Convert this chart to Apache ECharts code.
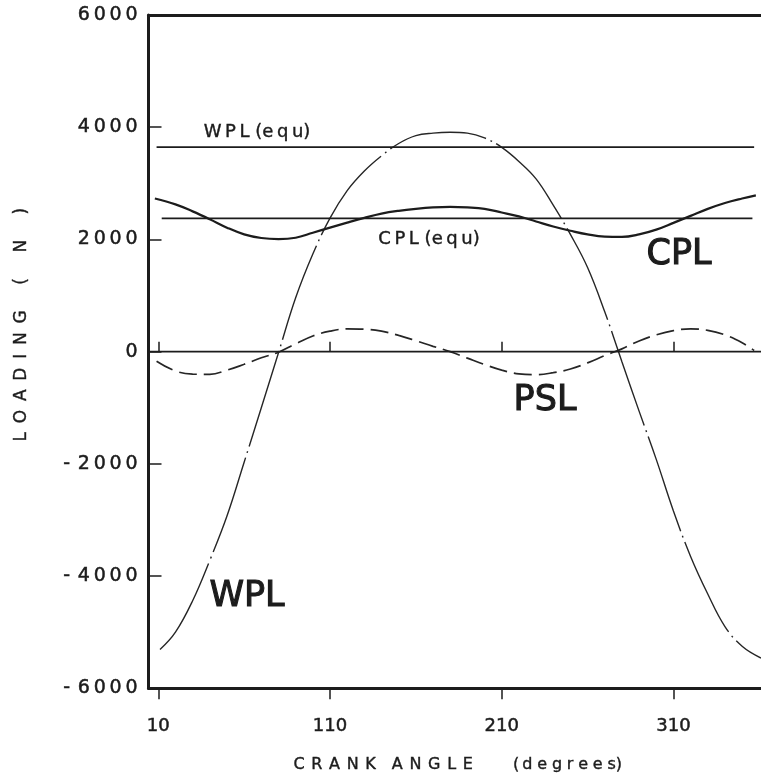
<!DOCTYPE html>
<html>
<head>
<meta charset="utf-8">
<script src="https://cdn.jsdelivr.net/npm/echarts@6/dist/echarts.min.js"></script>
<style>
  html, body { margin: 0; padding: 0; background: #ffffff; }
  #chart { width: 761px; height: 784px; }
</style>
</head>
<body>
<div id="chart"></div>
<script>
// Crank angle (degrees) and loading (N) for each curve
const wplAngle = [11, 20, 30, 40, 50, 60, 70, 80, 90, 100, 110, 120, 130, 140, 150, 160, 170, 180, 190, 200, 210, 220, 230, 240, 250, 260, 270, 280, 290, 300, 310, 320, 330, 340, 350, 361];
const wplLoad  = [-5310, -5000, -4440, -3720, -2930, -1970, -1000, -20, 960, 1740, 2380, 2870, 3220, 3490, 3710, 3850, 3895, 3910, 3895, 3810, 3640, 3390, 3080, 2610, 2090, 1500, 710, -180, -1060, -1920, -2840, -3650, -4320, -4900, -5250, -5460];

const cplAngle = [8, 20, 30, 40, 50, 60, 70, 80, 90, 100, 110, 120, 130, 140, 150, 160, 170, 180, 190, 200, 210, 220, 230, 240, 250, 260, 270, 280, 290, 300, 310, 320, 330, 340, 350, 358];
const cplLoad  = [2730, 2625, 2500, 2360, 2210, 2090, 2025, 2005, 2030, 2120, 2210, 2300, 2385, 2460, 2510, 2545, 2570, 2580, 2570, 2545, 2480, 2410, 2320, 2230, 2155, 2090, 2050, 2045, 2090, 2175, 2295, 2420, 2545, 2650, 2730, 2785];

const pslAngle = [9, 20, 30, 40, 50, 60, 70, 80, 90, 100, 110, 120, 130, 140, 150, 160, 170, 180, 190, 200, 210, 220, 230, 240, 250, 260, 270, 280, 290, 300, 310, 320, 330, 340, 350, 357];
const pslLoad  = [-170, -345, -400, -405, -330, -225, -110, -10, 140, 280, 365, 405, 400, 365, 290, 195, 95, 0, -115, -230, -330, -395, -410, -375, -310, -200, -70, 50, 190, 300, 375, 405, 380, 300, 160, 20];

// Equivalent loading levels and the angle span they are drawn over
const wplEquLevel = 3645;
const wplEquSpan = [9, 357];
const cplEquLevel = 2375;
const cplEquSpan = [12, 356];

// Axis extents and tick values
const angleMin = 4.3;
const angleMax = 361;
const angleTicks = [10, 110, 210, 310];
const loadMin = -6000;
const loadMax = 6000;
const loadStep = 2000;

const INK = '#1c1c1c';
const FONT = 'DejaVu Sans';
const THIN = '\u2009';
const HAIR = '\u200A';

function spaced(str, sep) {
  return str.split('').join(sep);
}
function zip(xs, ys) {
  return xs.map((x, i) => [x, ys[i]]);
}
function levelLine(span, level) {
  return span.map(a => [a, level]);
}

const chart = echarts.init(document.getElementById('chart'), null, { renderer: 'canvas' });

const baseX = {
  type: 'value',
  min: angleMin,
  max: angleMax,
  splitLine: { show: false }
};

const xName = spaced('CRANK', ' ' + HAIR) + '\u2002\u2002' + spaced('ANGLE', ' ' + HAIR) +
  '\u2003\u2003\u2002(' + THIN + spaced('degrees', THIN + HAIR) + ')';
const yName = spaced('LOADING', ' ' + THIN) + '\u2003\u2002(\u2003\u2002N\u2003\u2002)';

const option = {
  animation: false,
  backgroundColor: '#ffffff',
  grid: { left: 148.5, right: -1, top: 15, bottom: 95.7, containLabel: false },
  xAxis: [
    Object.assign({}, baseX, {
      position: 'bottom',
      axisLine: { show: true, onZero: false, lineStyle: { color: INK, width: 3 } },
      axisTick: { show: true, inside: false, length: 11, customValues: angleTicks, lineStyle: { color: INK, width: 1.5 } },
      axisLabel: {
        show: true, customValues: angleTicks, margin: 29, fontSize: 18, fontFamily: FONT, color: INK,
        textBorderColor: INK, textBorderWidth: 0.5
      },
      name: xName,
      nameLocation: 'middle',
      nameGap: 69,
      nameTextStyle: { fontSize: 16, fontFamily: FONT, color: INK, textBorderColor: INK, textBorderWidth: 0.4, padding: [0, 0, 0, 6] }
    }),
    Object.assign({}, baseX, {
      position: 'bottom',
      axisLine: { show: false },
      axisTick: { show: true, inside: true, length: 10, customValues: angleTicks, lineStyle: { color: INK, width: 1.5 } },
      axisLabel: { show: false }
    }),
    Object.assign({}, baseX, {
      position: 'top',
      axisLine: { show: true, onZero: false, lineStyle: { color: INK, width: 3 } },
      axisTick: { show: false },
      axisLabel: { show: false }
    })
  ],
  yAxis: {
    type: 'value',
    min: loadMin,
    max: loadMax,
    interval: loadStep,
    axisLine: { show: true, onZero: false, lineStyle: { color: INK, width: 3 } },
    axisTick: { show: true, inside: true, length: 13, lineStyle: { color: INK, width: 1.5 } },
    splitLine: { show: false },
    axisLabel: {
      margin: 11,
      fontSize: 19,
      fontFamily: FONT,
      color: INK,
      textBorderColor: INK,
      textBorderWidth: 0.5,
      formatter: v => (v < 0 ? '-' + THIN + THIN : '') + spaced(String(Math.abs(v)), THIN)
    },
    name: yName,
    nameLocation: 'middle',
    nameGap: 118,
    nameTextStyle: { fontSize: 17, fontFamily: FONT, color: INK, textBorderColor: INK, textBorderWidth: 0.4, padding: [0, 0, 0, 54] }
  },
  series: [
    {
      name: 'WPL',
      type: 'line',
      data: zip(wplAngle, wplLoad),
      smooth: 0.4,
      showSymbol: false,
      lineStyle: { color: '#262626', width: 1.4, type: [100, 5, 1.8, 5] }
    },
    {
      name: 'CPL',
      type: 'line',
      data: zip(cplAngle, cplLoad),
      smooth: 0.4,
      showSymbol: false,
      lineStyle: { color: INK, width: 2.2 }
    },
    {
      name: 'PSL',
      type: 'line',
      data: zip(pslAngle, pslLoad),
      smooth: 0.4,
      showSymbol: false,
      lineStyle: { color: '#262626', width: 1.7, type: [18, 7] }
    },
    {
      name: 'WPL (equ)',
      type: 'line',
      data: levelLine(wplEquSpan, wplEquLevel),
      showSymbol: false,
      lineStyle: { color: INK, width: 1.6 }
    },
    {
      name: 'CPL (equ)',
      type: 'line',
      data: levelLine(cplEquSpan, cplEquLevel),
      showSymbol: false,
      lineStyle: { color: INK, width: 1.6 }
    },
    {
      name: 'zero',
      type: 'line',
      data: levelLine([angleMin, angleMax], 0),
      showSymbol: false,
      lineStyle: { color: INK, width: 1.7 }
    }
  ],
  graphic: [
    { type: 'text', x: 257, y: 132, style: { text: spaced('WPL', THIN) + ' (' + spaced('equ', THIN) + ')', fontSize: 18, fontFamily: FONT, fill: INK, stroke: INK, lineWidth: 0.4, align: 'center', verticalAlign: 'middle' } },
    { type: 'text', x: 429, y: 239, style: { text: spaced('CPL', THIN) + ' (' + spaced('equ', THIN) + ')', fontSize: 18, fontFamily: FONT, fill: INK, stroke: INK, lineWidth: 0.4, align: 'center', verticalAlign: 'middle' } },
    { type: 'text', x: 679, y: 255, style: { text: 'CPL', fontSize: 35, fontFamily: FONT, fill: INK, stroke: INK, lineWidth: 1.1, align: 'center', verticalAlign: 'middle' } },
    { type: 'text', x: 545, y: 401, style: { text: 'PSL', fontSize: 35, fontFamily: FONT, fill: INK, stroke: INK, lineWidth: 1.1, align: 'center', verticalAlign: 'middle' } },
    { type: 'text', x: 247, y: 597, style: { text: 'WPL', fontSize: 35, fontFamily: FONT, fill: INK, stroke: INK, lineWidth: 1.1, align: 'center', verticalAlign: 'middle' } }
  ]
};

chart.setOption(option);
</script>
</body>
</html>
